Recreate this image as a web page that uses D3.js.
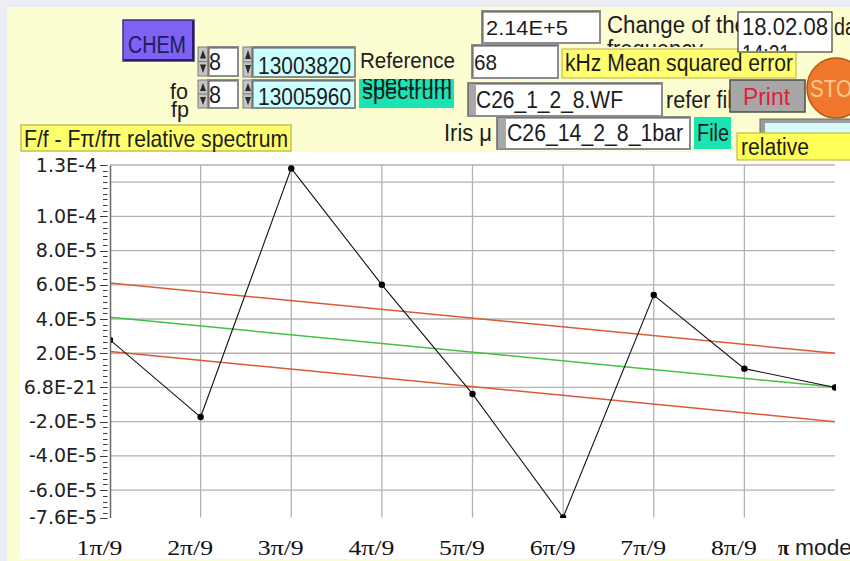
<!DOCTYPE html>
<html>
<head>
<meta charset="utf-8">
<script src="https://cdn.jsdelivr.net/npm/d3@7/dist/d3.min.js"></script>
<style>
  body { margin: 0; background: #eceef4; }
  svg { display: block; }
</style>
</head>
<body>
<div id="chart"></div>
<script>
"use strict";

// mode numbers n (n*pi/9) and their axis labels
const modes      = [1, 2, 3, 4, 5, 6, 7, 8, 9];
const modeLabels = ["1π/9", "2π/9", "3π/9", "4π/9", "5π/9", "6π/9", "7π/9", "8π/9"];

// relative spectrum F/f - Fpi/fpi, one value per mode
const spectrum = [2.78e-5, -1.73e-5, 1.28e-4, 6.0e-5, -3.8e-6, -7.6e-5, 5.4e-5, 1.1e-5, 0.0];

// straight lines, value at first and last mode
const lineModes  = [1, 9];
const fitLine    = [4.1e-5, 2.0e-7];
const upperLine  = [6.1e-5, 2.0e-5];
const lowerLine  = [2.1e-5, -2.0e-5];

// y axis
const yDomain     = [-7.6e-5, 1.3e-4];
const yTickValues = [1.3e-4, 1.0e-4, 8.0e-5, 6.0e-5, 4.0e-5, 2.0e-5, 0, -2.0e-5, -4.0e-5, -6.0e-5, -7.6e-5];
const yTickLabels = ["1.3E-4", "1.0E-4", "8.0E-5", "6.0E-5", "4.0E-5", "2.0E-5", "6.8E-21",
                     "-2.0E-5", "-4.0E-5", "-6.0E-5", "-7.6E-5"];
const yGridValues = [1.3e-4, 1.2e-4, 1.0e-4, 8.0e-5, 6.0e-5, 4.0e-5, 2.0e-5, 0, -2.0e-5, -4.0e-5, -6.0e-5];
const yMinorStep  = 2.0e-5 / 6;

const W = 850, H = 561;
const uiFont = "'Liberation Sans Narrow', 'Liberation Sans', Arial, sans-serif";

const svg = d3.select("#chart").append("svg")
    .attr("width", W)
    .attr("height", H);
const defs = svg.append("defs");

function clipRect(id, x, y, w, h) {
    defs.append("clipPath").attr("id", id)
        .append("rect").attr("x", x).attr("y", y).attr("width", w).attr("height", h);
}

function txt(s, x, y, size, len, opts) {
    opts = opts || {};
    let t = svg.append("text")
        .attr("x", x).attr("y", y)
        .attr("font-size", size)
        .attr("font-family", opts.family || uiFont)
        .attr("fill", opts.fill || "#1c1c1c")
        .text(s);
    if (len) t.attr("textLength", len).attr("lengthAdjust", "spacingAndGlyphs");
    if (opts.clip) t.attr("clip-path", "url(#" + opts.clip + ")");
    return t;
}

function box(x, y, w, h, fill, stroke, sw) {
    return svg.append("rect")
        .attr("x", x).attr("y", y).attr("width", w).attr("height", h)
        .attr("fill", fill)
        .attr("stroke", stroke || "none")
        .attr("stroke-width", sw || 1);
}

// sunken control frame like the front panel boxes
function control(x, y, w, h, fill) {
    box(x, y, w, h, fill, "#8c8c8c", 2);
    svg.append("path")
        .attr("d", "M" + (x + 1) + "," + (y + h - 1) + "V" + (y + 1) + "H" + (x + w - 1))
        .attr("fill", "none").attr("stroke", "#5a5a5a").attr("stroke-width", 1);
}

function spin(x, y, h) {
    box(x, y, 10, h, "#c4c4c4", "#7a7a7a", 1);
    let m = y + h / 2;
    svg.append("path")
        .attr("d", "M" + (x + 2) + "," + (m - 3) + "L" + (x + 5) + "," + (y + 3) + "L" + (x + 8) + "," + (m - 3) + "Z" +
                   "M" + (x + 2) + "," + (m + 3) + "L" + (x + 5) + "," + (y + h - 3) + "L" + (x + 8) + "," + (m + 3) + "Z")
        .attr("fill", "#2a2a2a");
    svg.append("line")
        .attr("x1", x).attr("x2", x + 10).attr("y1", m).attr("y2", m)
        .attr("stroke", "#7a7a7a");
}

// ---------- panel background ----------
box(0, 0, W, H, "#eceef4");
box(7, 7, W - 7, H - 7, "#fdfdd2");
box(20, 152, W - 20, 407, "#ffffff");

// ---------- plot ----------
let x = d3.scaleLinear().domain([1, 9]).range([110, 835]);
let y = d3.scaleLinear().domain(yDomain).range([517.5, 165]);

let plot = svg.append("g");
clipRect("plotClip", 110, 165, 726, 353);

plot.append("g").selectAll("line")
    .data(yGridValues).join("line")
    .attr("x1", x(1)).attr("x2", x(9))
    .attr("y1", d => y(d)).attr("y2", d => y(d))
    .attr("stroke", "#b2b2b2").attr("stroke-width", 1.3);

plot.append("g").selectAll("line")
    .data(modes.slice(1, 8)).join("line")
    .attr("x1", d => x(d)).attr("x2", d => x(d))
    .attr("y1", y(yDomain[1])).attr("y2", y(yDomain[0]))
    .attr("stroke", "#b2b2b2").attr("stroke-width", 1.3);

let straight = d3.line()
    .x((d, i) => x(lineModes[i]))
    .y(d => y(d));

plot.append("path").datum(upperLine)
    .attr("d", straight).attr("fill", "none")
    .attr("stroke", "#dc5a3a").attr("stroke-width", 1.5);
plot.append("path").datum(lowerLine)
    .attr("d", straight).attr("fill", "none")
    .attr("stroke", "#dc5a3a").attr("stroke-width", 1.5);
plot.append("path").datum(fitLine)
    .attr("d", straight).attr("fill", "none")
    .attr("stroke", "#44c044").attr("stroke-width", 1.5);

let dataG = plot.append("g").attr("clip-path", "url(#plotClip)");
dataG.append("path").datum(spectrum)
    .attr("d", d3.line().x((d, i) => x(modes[i])).y(d => y(d)))
    .attr("fill", "none").attr("stroke", "#111").attr("stroke-width", 1.1);
dataG.selectAll("circle")
    .data(spectrum).join("circle")
    .attr("cx", (d, i) => x(modes[i]))
    .attr("cy", d => y(d))
    .attr("r", 3.2)
    .attr("fill", "#000");

// y axis
let yAxis = d3.axisLeft(y)
    .tickValues(yTickValues)
    .tickFormat((d, i) => yTickLabels[i])
    .tickSize(0)
    .tickPadding(13);
let yg = svg.append("g")
    .attr("transform", "translate(110,0)")
    .call(yAxis);
yg.select(".domain").attr("stroke", "#6a6a6a").attr("stroke-width", 1.5);
yg.selectAll("text")
    .attr("font-family", "'DejaVu Sans', Verdana, sans-serif")
    .attr("font-size", 19)
    .attr("fill", "#222");

let minor = d3.range(Math.ceil(yDomain[0] / yMinorStep), Math.floor(yDomain[1] / yMinorStep) + 1)
    .map(k => k * yMinorStep);
svg.append("g").selectAll("line")
    .data(minor).join("line")
    .attr("x1", 103).attr("x2", 107.5)
    .attr("y1", d => Math.round(y(d)) + 0.5).attr("y2", d => Math.round(y(d)) + 0.5)
    .attr("stroke", "#3a3a3a").attr("stroke-width", 1);
svg.append("g").selectAll("line")
    .data(yTickValues).join("line")
    .attr("x1", 100).attr("x2", 107.5)
    .attr("y1", d => Math.round(y(d)) + 0.5).attr("y2", d => Math.round(y(d)) + 0.5)
    .attr("stroke", "#3a3a3a").attr("stroke-width", 1);

// x axis labels
let xAxis = d3.axisBottom(x)
    .tickValues(modes.slice(0, 8))
    .tickFormat((d, i) => modeLabels[i])
    .tickSize(0)
    .tickPadding(0);
let xg = svg.append("g")
    .attr("transform", "translate(-11,540)")
    .call(xAxis);
xg.select(".domain").remove();
xg.selectAll("text")
    .attr("dy", 0)
    .attr("y", 15)
    .attr("font-family", "'Liberation Serif', 'Times New Roman', serif")
    .attr("font-size", 21)
    .attr("fill", "#111")
    .attr("textLength", 46)
    .attr("lengthAdjust", "spacingAndGlyphs");

txt("π", 778, 555, 22, 11, {family: "'Liberation Serif', serif", fill: "#111"}).attr("font-weight", "bold");
txt("mode", 795, 555, 22, 57, {fill: "#222"});

// ---------- front panel controls ----------
// CHEM button
box(123, 20, 71, 41, "#7f61f3", "#3c2c8a", 1.5);
svg.append("path").attr("d", "M124,60H193V21").attr("fill", "none").attr("stroke", "#2a1d66").attr("stroke-width", 2);
txt("CHEM", 128, 53, 23, 58, {fill: "#1e1e55"});

// integer spinners
spin(198, 47, 29);
control(208, 47, 30, 29, "#ffffff");
txt("8", 209, 70, 23, 12);
spin(198, 80, 28);
control(208, 80, 30, 28, "#ffffff");
txt("8", 209, 103, 23, 12);

// frequency spinners
spin(243, 47, 30);
control(252, 47, 103, 30, "#caffff");
clipRect("f1", 253, 48, 100, 28);
txt("13003820", 258, 74, 24, 93, {clip: "f1"});
spin(243, 80, 28);
control(252, 80, 103, 28, "#caffff");
clipRect("f2", 253, 81, 100, 26);
txt("13005960", 258, 105, 24, 93, {clip: "f2"});

txt("fo", 170, 99, 22, 18);
txt("fp", 171, 117, 22, 18);

// graph caption
box(21, 125, 270, 26, "#ffff6c", "#b9b04a", 1.2);
txt("F/f - Fπ/fπ relative spectrum", 24, 147, 24, 264);

// reference spectrum label
txt("Reference", 360, 68, 22, 95);
box(359, 79, 95, 29, "#1ae4b4");
clipRect("spec", 359, 79, 95, 29);
txt("spectrum", 362, 90, 22, 90, {clip: "spec"});
txt("spectrum", 362, 99, 22, 90, {clip: "spec"});

// 2.14E+5
control(482, 11, 118, 32, "#ffffff");
txt("2.14E+5", 486, 35, 21, 82);

// frequency change label
txt("Change of the", 607, 33, 23, 140);
clipRect("freq", 600, 30, 140, 17);
txt("frequency", 607, 57, 23, 96, {clip: "freq"});

// 68 kHz
control(472, 45, 86, 33, "#ffffff");
txt("68", 474, 70, 22, 23);
box(562, 49, 234, 29, "#ffff70", "#c4bb58", 1.2);
txt("kHz Mean squared error", 565, 71, 23, 228);

// date
box(738, 12, 94, 40, "#ffffff", "#1a1a1a", 1);
clipRect("date", 739, 13, 92, 38);
txt("18.02.08", 742, 35, 23, 86, {clip: "date"});
txt("14:21", 742, 62, 23, 48, {clip: "date"});
txt("da", 834, 35, 23, 22);

// reference file
control(468, 83, 194, 33, "#ffffff");
box(469, 84, 7, 31, "#a8a8a8");
txt("C26_1_2_8.WF", 476, 108, 23, 147);
txt("refer file", 666, 108, 23, 78);

// Print button
box(730, 80, 75, 32, "#a7a7a7", "#4e4e4e", 1.5);
txt("Print", 743, 105, 23, 47, {fill: "#e21d3c"});

// STOP button
svg.append("ellipse")
    .attr("cx", 836).attr("cy", 88).attr("rx", 29).attr("ry", 30)
    .attr("fill", "#f0782c").attr("stroke", "#b85512").attr("stroke-width", 1.5);
txt("STOP", 810, 97, 23, 56, {fill: "#ffc892"});

// iris file
txt("Iris μ", 444, 141, 23, 48);
control(497, 117, 193, 32, "#ffffff");
box(498, 118, 8, 30, "#a8a8a8");
txt("C26_14_2_8_1bar", 507, 141, 23, 176);
box(694, 117, 37, 32, "#1ae4b4");
txt("File", 697, 141, 23, 32);

// relative selector
box(760, 119, 95, 22, "#9c9c9c", "#6a6a6a", 1);
box(765, 123, 90, 16, "#d6fbfb");
box(737, 133, 120, 27, "#ffff58", "#c4bb40", 1.2);
txt("relative", 741, 155, 23, 68);
</script>
</body>
</html>
